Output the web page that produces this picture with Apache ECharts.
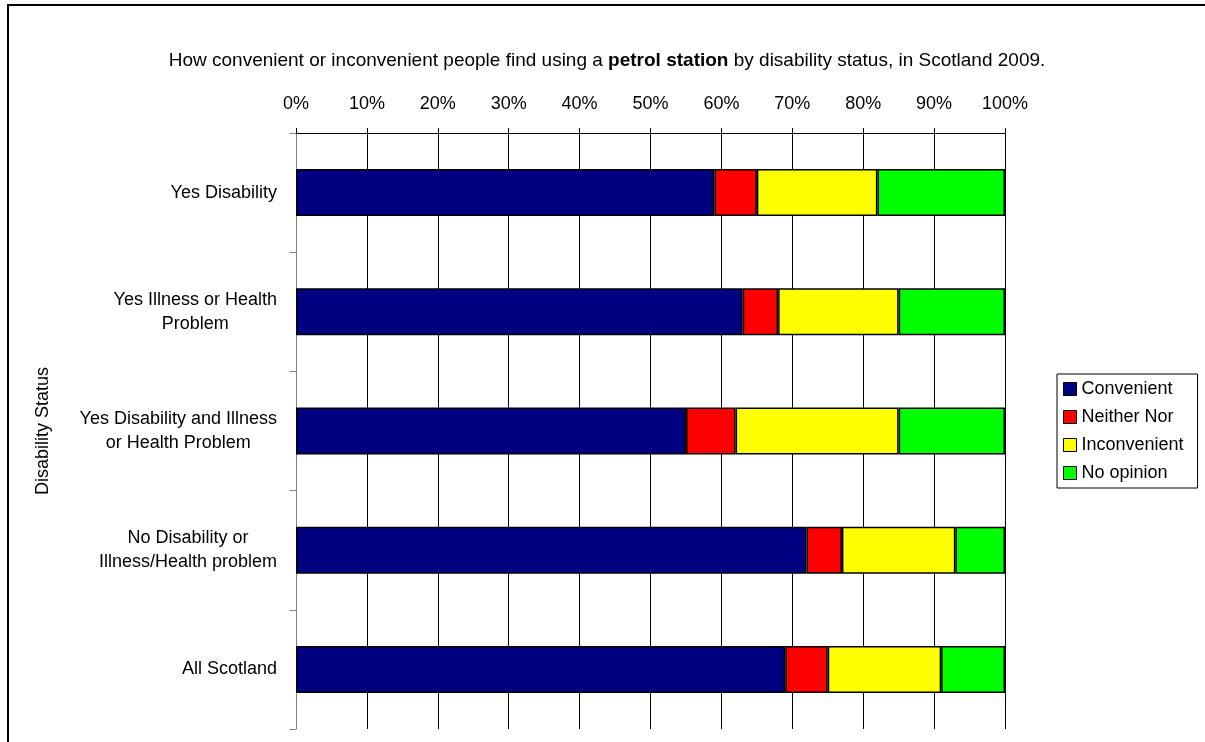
<!DOCTYPE html>
<html>
<head>
<meta charset="utf-8">
<script src="https://cdn.jsdelivr.net/npm/echarts@6/dist/echarts.min.js"></script>
<style>
  html, body { margin: 0; padding: 0; background: #fff; }
  #chart { width: 1205px; height: 742px; }
</style>
</head>
<body>
<div id="chart"></div>
<script>
// categories, top to bottom
const categories = [
  'Yes Disability',
  'Yes Illness or Health\nProblem',
  'Yes Disability and Illness\nor Health Problem',
  'No Disability or\nIllness/Health problem',
  'All Scotland'
];
// percentages
const convenient = [59, 63, 55, 72, 69];
const neitherNor = [6, 5, 7, 5, 6];
const inconvenient = [17, 17, 23, 16, 16];
const noOpinion = [18, 15, 15, 7, 9];

const seriesNames = ['Convenient', 'Neither Nor', 'Inconvenient', 'No opinion'];
const seriesColors = ['#000080', '#ff0000', '#ffff00', '#00ff00'];
const seriesData = [convenient, neitherNor, inconvenient, noOpinion];

const font = "'Liberation Sans', Arial, sans-serif";

const chart = echarts.init(document.getElementById('chart'));

const option = {
  backgroundColor: '#fff',
  animation: false,
  textStyle: { fontFamily: font, color: '#000' },
  title: {
    text: '{n|How convenient or inconvenient people find using a }{b|petrol station}{n| by disability status, in Scotland 2009.}',
    left: 602,
    textAlign: 'center',
    top: 46,
    textStyle: {
      fontWeight: 'normal',
      rich: {
        n: { fontFamily: font, fontSize: 19, fontWeight: 'normal', color: '#000' },
        b: { fontFamily: font, fontSize: 19, fontWeight: 'bold', color: '#000' }
      }
    }
  },
  legend: {
    orient: 'vertical',
    left: 1057,
    top: 374,
    padding: [6, 14, 6, 6],
    itemWidth: 13,
    itemHeight: 13,
    itemGap: 10,
    borderColor: '#000',
    borderWidth: 1,
    borderRadius: 0,
    icon: 'rect',
    textStyle: { fontFamily: font, fontSize: 18, color: '#000', padding: [0, 0, 0, 0] },
    itemStyle: { borderColor: '#000', borderWidth: 1 },
    data: seriesNames
  },
  grid: {
    left: 296,
    right: 200,
    top: 133,
    bottom: 13
  },
  xAxis: {
    type: 'value',
    position: 'top',
    min: 0,
    max: 100,
    interval: 10,
    axisLine: { show: true, lineStyle: { color: '#000', width: 1 } },
    axisTick: { show: true, length: 5, lineStyle: { color: '#000' } },
    axisLabel: {
      formatter: '{value}%',
      fontFamily: font,
      fontSize: 18,
      color: '#000',
      margin: 20
    },
    splitLine: { show: true, lineStyle: { color: '#000', width: 1 } }
  },
  yAxis: {
    type: 'category',
    inverse: true,
    data: categories,
    name: 'Disability Status',
    nameLocation: 'middle',
    nameRotate: 90,
    nameGap: 244,
    nameTextStyle: { fontFamily: font, fontSize: 18, color: '#000' },
    axisLine: { show: true, lineStyle: { color: '#808080', width: 1 } },
    axisTick: { show: true, length: 6, lineStyle: { color: '#808080' } },
    axisLabel: {
      margin: 19,
      formatter: v => v.split('\n').map(l => '{c|' + l + '}').join('\n'),
      rich: {
        c: { fontFamily: font, fontSize: 18, color: '#000', align: 'center', lineHeight: 24 }
      }
    }
  },
  series: seriesNames.map((name, i) => ({
    name: name,
    type: 'bar',
    stack: 'total',
    barWidth: 47,
    data: seriesData[i],
    itemStyle: { color: seriesColors[i], borderColor: '#000', borderWidth: 1.5 }
  }))
};

chart.setOption(option);

// outer figure frame
chart.setOption({
  graphic: [{
    type: 'rect',
    shape: { x: 8, y: 5, width: 1400, height: 900 },
    style: { fill: 'none', stroke: '#000', lineWidth: 2 },
    silent: true
  }]
});
</script>
</body>
</html>
